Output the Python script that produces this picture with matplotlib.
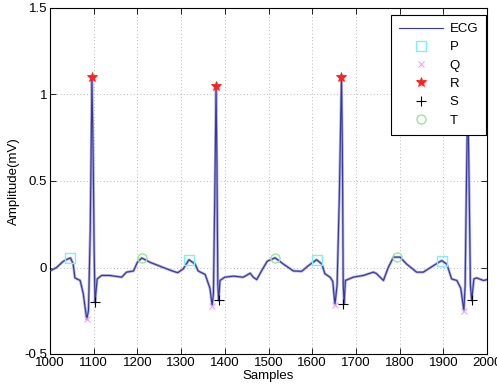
import matplotlib
matplotlib.use("Agg")
import matplotlib.pyplot as plt

plt.rcParams['font.family'] = ['Liberation Sans', 'DejaVu Sans']

# ECG trace (samples, amplitude in mV)
ecg_x = [1000, 1015, 1030, 1041, 1047, 1053, 1057, 1069, 1076, 1084, 1088, 1092, 1096, 1099, 1101, 1103,
         1108, 1118, 1137, 1164, 1175, 1191, 1200, 1210, 1229, 1259, 1280, 1292, 1305, 1318, 1332,
         1339, 1355, 1366, 1371, 1374, 1377, 1380, 1382, 1384, 1386, 1389, 1400, 1420, 1442, 1450,
         1458, 1465, 1473, 1484, 1497, 1515, 1534, 1557, 1576, 1591, 1610, 1622, 1629, 1641, 1647,
         1652, 1657, 1662, 1667, 1669, 1671, 1673, 1676, 1694, 1717, 1740, 1747, 1763, 1774, 1786,
         1801, 1816, 1839, 1854, 1877, 1896, 1908, 1919, 1931, 1940, 1947, 1950, 1953, 1956, 1959,
         1962, 1965, 1970, 1976, 1992, 2000]
ecg_y = [-0.02, 0.0, 0.035, 0.05, 0.055, 0.02, -0.06, -0.075, -0.15, -0.3, -0.25, 0.2, 1.1, 0.6, 0.1, -0.2,
         -0.066, -0.046, -0.046, -0.056, -0.027, -0.02, 0.03, 0.055, 0.03, 0.0, -0.02, -0.03, -0.008, 0.045, 0.02,
         -0.02, -0.04, -0.12, -0.22, -0.15, 0.4, 1.05, 0.6, -0.1, -0.19, -0.075, -0.056, -0.05, -0.056, -0.045,
         -0.033, -0.056, -0.07, -0.02, 0.036, 0.056, 0.02, -0.02, -0.022, 0.01, 0.045, 0.02, -0.036, -0.056, -0.08,
         -0.215, -0.1, 0.4, 1.1, 0.7, -0.1, -0.21, -0.075, -0.056, -0.046, -0.027, -0.035, -0.075, 0.0, 0.06,
         0.06, 0.02, -0.027, -0.027, 0.01, 0.04, 0.02, -0.066, -0.075, -0.12, -0.25, -0.1, 0.5, 1.0, 0.5,
         -0.1, -0.19, -0.066, -0.06, -0.075, -0.07]

# Fiducial points
p_x = [1046, 1318, 1610, 1896]
p_y = [0.055, 0.045, 0.045, 0.04]
q_x = [1084, 1371, 1652, 1947]
q_y = [-0.3, -0.22, -0.215, -0.25]
r_x = [1096, 1380, 1667, 1956]
r_y = [1.1, 1.05, 1.1, 1.0]
s_x = [1103, 1386, 1671, 1965]
s_y = [-0.2, -0.19, -0.21, -0.19]
t_x = [1210, 1515, 1794]
t_y = [0.055, 0.056, 0.06]

xticks = [1000, 1100, 1200, 1300, 1400, 1500, 1600, 1700, 1800, 1900, 2000]
yticks = [-0.5, 0, 0.5, 1, 1.5]
ytick_labels = ['-0.5', '0', '0.5', '1', '1.5']

fig = plt.figure(figsize=(4.97, 3.92), dpi=100)
ax = fig.add_axes([50/497, 1 - 354/392, 437/497, 346/392])

ax.plot(ecg_x, ecg_y, color='#a8a8de', lw=1.9, zorder=2, solid_joinstyle='round')
ax.plot(ecg_x, ecg_y, color='#36369c', lw=0.8, label='ECG', zorder=3)
ax.plot(p_x, p_y, 's', ms=6.5, mfc='none', mec='#80eef4', mew=1.0, label='P', zorder=4)
ax.plot(q_x, q_y, 'x', ms=4, color='#eaa8ea', mew=0.8, label='Q', zorder=4)
ax.plot(r_x, r_y, '*', ms=7.5, color='#ff2020', mew=0.6, label='R', zorder=4)
ax.plot(s_x, s_y, '+', ms=7, color='black', mew=0.8, label='S', zorder=4)
ax.plot(t_x, t_y, 'o', ms=6.5, mfc='none', mec='#9ce49c', mew=1.0, label='T', zorder=4)

ax.set_xlim(1000, 2000)
ax.set_ylim(-0.5, 1.5)
ax.set_xticks(xticks)
ax.set_yticks(yticks)
ax.set_yticklabels(ytick_labels)
ax.tick_params(direction='in', length=4, width=0.6, top=True, right=True, labelsize=9.5, pad=2)
ax.grid(True, color='#a0a0a0', linestyle=(0, (1, 3)), linewidth=0.6)
for sp in ax.spines.values():
    sp.set_linewidth(0.8)

ax.set_xlabel('Samples', fontsize=9.5, labelpad=1)
ax.set_ylabel('Amplitude(mV)', fontsize=9.5, labelpad=3)

leg = ax.legend(loc='upper right', bbox_to_anchor=(1 - 1/437, 1 - 7/346), borderaxespad=0,
                fontsize=9.5, fancybox=False, framealpha=1, edgecolor='black',
                handlelength=3.3, handletextpad=0.5, labelspacing=0.46, borderpad=0.6)
leg.get_frame().set_linewidth(0.8)
leg.set_zorder(10)

fig.savefig('out.png', dpi=100)
